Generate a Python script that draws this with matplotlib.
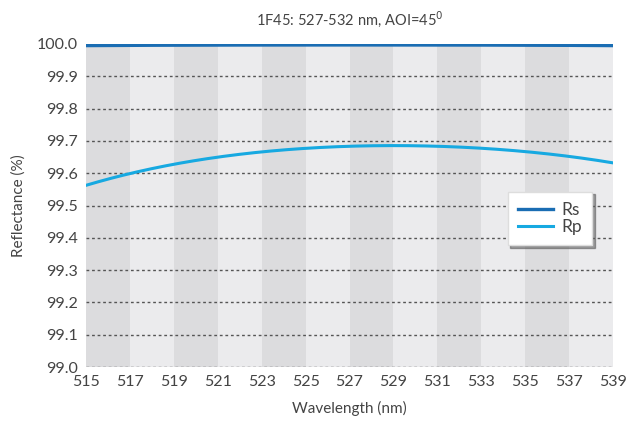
import matplotlib.pyplot as plt
import numpy as np

plt.rcParams['font.family'] = ['Lato', 'DejaVu Sans']

wl = [515, 517, 519, 521, 523, 525, 527, 529, 531, 533, 535, 537, 539]
rs = [99.995, 99.996, 99.996, 99.997, 99.997, 99.997, 99.997, 99.997, 99.997, 99.997, 99.996, 99.996, 99.995]
rp = [99.562, 99.600, 99.627, 99.650, 99.665, 99.677, 99.684, 99.686, 99.683, 99.677, 99.667, 99.652, 99.632]
xticks = list(range(515, 540, 2))
yticks = [round(99.0 + 0.1 * i, 1) for i in range(11)]

txt = '#444444'
fig = plt.figure(figsize=(6.29, 4.28), dpi=100)
ax = fig.add_axes([0.1367, 0.1425, 0.8379, 0.7547])

# alternating bands
for i, x0 in enumerate(xticks[:-1]):
    ax.axvspan(x0, x0 + 2, color='#dcdcde' if i % 2 == 0 else '#ebebed', lw=0, zorder=0)

for y in yticks:
    ax.axhline(y, color='#555555', lw=1, ls=(0, (2, 2)), zorder=1)

# smooth curves through the read points
xs = np.linspace(515, 539, 300)
ax.plot(xs, np.polyval(np.polyfit(wl, rs, 4), xs), color='#1a6db3', lw=2.4, label='Rs', zorder=3)
ax.plot(xs, np.polyval(np.polyfit(wl, rp, 4), xs), color='#17a9e1', lw=2.2, label='Rp', zorder=3)

ax.set_xlim(515, 539)
ax.set_ylim(99.0, 100.0)
ax.set_xticks(xticks)
ax.set_yticks(yticks)
ax.set_yticklabels([f'{v:.1f}' for v in yticks])
for s in ax.spines.values():
    s.set_visible(False)
ax.tick_params(length=0, labelsize=11.5, colors=txt, pad=6)
ax.set_xlabel('Wavelength (nm)', fontsize=11, color=txt, labelpad=8)
ax.set_ylabel('Reflectance (%)', fontsize=11, color=txt, labelpad=8)
ax.set_title('1F45: 527-532 nm, AOI=45$^0$', fontsize=10.5, color=txt, pad=14)

leg = ax.legend(loc='center left', bbox_to_anchor=(0.80, 0.46), fontsize=12.5, frameon=True,
                fancybox=False, shadow=True, handlelength=2.0, borderpad=0.6,
                borderaxespad=0, labelspacing=0.05, handletextpad=0.5, labelcolor=txt)
leg.get_frame().set_edgecolor('#dddddd')
leg.get_frame().set_facecolor('white')

fig.savefig('out.png', dpi=100)
